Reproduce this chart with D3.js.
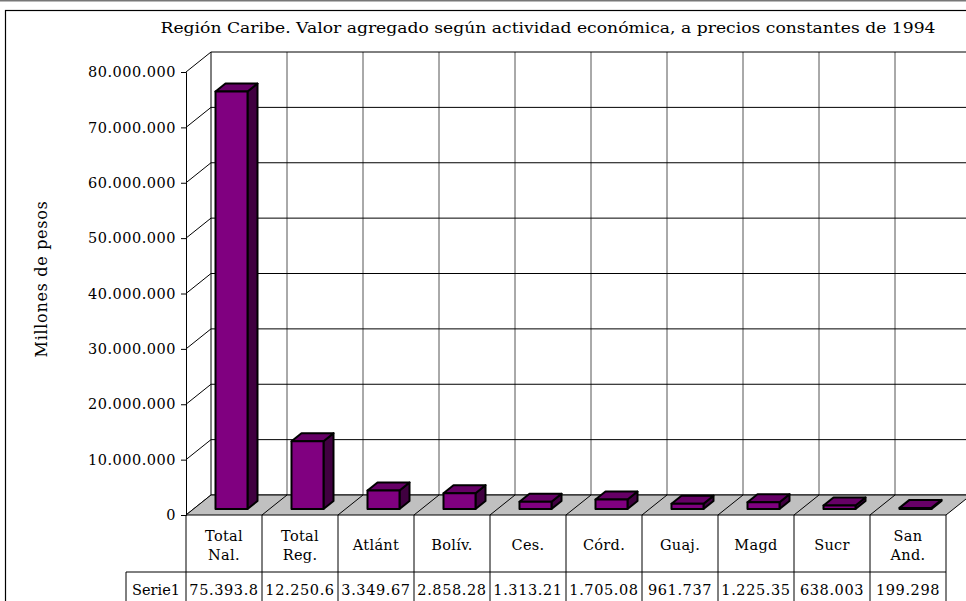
<!DOCTYPE html>
<html>
<head>
<meta charset="utf-8">
<script src="https://cdn.jsdelivr.net/npm/d3@7"></script>
<style>
  body { margin: 0; background: #fff; }
  text { font-family: "DejaVu Serif", serif; fill: #000; }
</style>
</head>
<body>
<div id="chart"></div>
<script>
const categories = ["Total Nal.", "Total Reg.", "Atlánt", "Bolív.", "Ces.", "Córd.", "Guaj.", "Magd", "Sucr", "San And."];
const values = [75393800, 12250600, 3349670, 2858280, 1313210, 1705080, 961737, 1225350, 638003, 199298];
const tableLabels = ["75.393.8", "12.250.6", "3.349.67", "2.858.28", "1.313.21", "1.705.08", "961.737", "1.225.35", "638.003", "199.298"];
const seriesName = "Serie1";
const yTicks = [0, 10000000, 20000000, 30000000, 40000000, 50000000, 60000000, 70000000, 80000000];
const title = "Región Caribe. Valor agregado según actividad económica, a precios  constantes de 1994";
const yTitle = "Millones de pesos";

const width = 966, height = 601;
const dx = 25, dy = -20; // depth of the 3d box

const svg = d3.select('#chart').append('svg')
    .attr('width', width)
    .attr('height', height);

const es = d3.formatLocale({ decimal: ",", thousands: ".", grouping: [3] });
const fmt = es.format(",d");

const x = d3.scaleBand()
    .domain(categories)
    .range([186, 946]);
const y = d3.scaleLinear()
    .domain([0, 80000000])
    .range([515, 72]);

// window line + frame
svg.append('line').attr('x1', 0).attr('x2', width).attr('y1', 0.5).attr('y2', 0.5)
    .attr('stroke', '#777').attr('stroke-width', 2);
svg.append('rect')
    .attr('x', 5.5).attr('y', 10.5).attr('width', 980).attr('height', 620)
    .attr('fill', 'none').attr('stroke', '#000').attr('stroke-width', 1.2);

svg.append('text')
    .attr('x', 548).attr('y', 33)
    .attr('text-anchor', 'middle')
    .attr('font-size', 15.5)
    .attr('textLength', 775)
    .attr('lengthAdjust', 'spacingAndGlyphs')
    .text(title);

svg.append('text')
    .attr('transform', 'translate(47,' + 279 + ') rotate(-90)')
    .attr('text-anchor', 'middle')
    .attr('font-size', 16)
    .attr('letter-spacing', 0.7)
    .text(yTitle);

const x0 = x.range()[0], x1 = x.range()[1];
const y0 = y(0), yTop = y(80000000);

// back wall
svg.append('rect')
    .attr('x', x0 + dx).attr('y', yTop + dy)
    .attr('width', x1 - x0).attr('height', y0 - yTop)
    .attr('fill', '#fff');

// left wall
svg.append('path')
    .attr('d', `M${x0},${y0}L${x0},${yTop}L${x0 + dx},${yTop + dy}L${x0 + dx},${y0 + dy}Z`)
    .attr('fill', '#fff');

// vertical grid on back wall
svg.append('g').selectAll('line')
    .data(categories.slice(1))
    .enter().append('line')
    .attr('x1', d => x(d) + dx).attr('x2', d => x(d) + dx)
    .attr('y1', yTop + dy).attr('y2', y0 + dy)
    .attr('stroke', '#555').attr('stroke-width', 1);

// horizontal grid
const grid = svg.append('g');
grid.selectAll('.hg')
    .data(yTicks)
    .enter().append('line')
    .attr('class', 'hg')
    .attr('x1', x0 + dx).attr('x2', x1 + dx)
    .attr('y1', d => y(d) + dy).attr('y2', d => y(d) + dy)
    .attr('stroke', '#000').attr('stroke-width', 1);
grid.selectAll('.dg')
    .data(yTicks)
    .enter().append('line')
    .attr('class', 'dg')
    .attr('x1', x0).attr('x2', x0 + dx)
    .attr('y1', d => y(d)).attr('y2', d => y(d) + dy)
    .attr('stroke', '#000').attr('stroke-width', 1);
svg.append('line')
    .attr('x1', x0 + dx).attr('x2', x0 + dx)
    .attr('y1', yTop + dy).attr('y2', y0 + dy)
    .attr('stroke', '#000');

// floor
svg.append('path')
    .attr('d', `M${x0},${y0}L${x1},${y0}L${x1 + dx},${y0 + dy}L${x0 + dx},${y0 + dy}Z`)
    .attr('fill', '#c0c0c0').attr('stroke', '#000').attr('stroke-width', 1);
svg.append('g').selectAll('line')
    .data(categories.slice(1))
    .enter().append('line')
    .attr('x1', d => x(d)).attr('x2', d => x(d) + dx)
    .attr('y1', y0).attr('y2', y0 + dy)
    .attr('stroke', '#000').attr('stroke-width', 1);

// y axis
const yAxis = svg.append('g')
    .attr('transform', `translate(${x0},0)`)
    .call(d3.axisLeft(y).tickValues(yTicks).tickFormat(fmt).tickSize(5).tickPadding(5));
yAxis.select('.domain').attr('stroke', '#000');
yAxis.selectAll('text')
    .attr('font-family', '"DejaVu Serif", serif')
    .attr('font-size', 14.5)
    .attr('letter-spacing', 0.5)
    .attr('fill', '#000');

// bars
const bw = x.bandwidth();
const barW = 32;
const f0 = 0.3, fd = 0.4;
const bars = svg.append('g').selectAll('g')
    .data(categories.map((c, i) => ({ c, v: values[i] })))
    .enter().append('g')
    .attr('stroke', '#000')
    .attr('stroke-width', 2)
    .attr('stroke-linejoin', 'round');

bars.each(function (d) {
    const g = d3.select(this);
    const bx0 = x(d.c) + (bw - barW) / 2 + f0 * dx;
    const bx1 = bx0 + barW;
    const yb = y(0) + f0 * dy;
    const yt = y(d.v) + f0 * dy;
    const ox = fd * dx, oy = fd * dy;
    g.append('path')
        .attr('d', `M${bx1},${yb}L${bx1},${yt}L${bx1 + ox},${yt + oy}L${bx1 + ox},${yb + oy}Z`)
        .attr('fill', '#400040');
    g.append('path')
        .attr('d', `M${bx0},${yt}L${bx1},${yt}L${bx1 + ox},${yt + oy}L${bx0 + ox},${yt + oy}Z`)
        .attr('fill', '#660066');
    g.append('rect')
        .attr('x', bx0).attr('y', yt)
        .attr('width', barW).attr('height', yb - yt)
        .attr('fill', '#800080');
});

// data table
const rowTop = y0, rowMid = 572, rowBot = 640;
const table = svg.append('g').attr('stroke', '#000').attr('stroke-width', 1);
table.selectAll('.vl')
    .data(categories.map(c => x(c)).concat([x1]))
    .enter().append('line')
    .attr('class', 'vl')
    .attr('x1', d => d).attr('x2', d => d)
    .attr('y1', rowTop).attr('y2', rowBot);
table.append('line')
    .attr('x1', 126).attr('x2', x1)
    .attr('y1', rowMid).attr('y2', rowMid);
table.append('line')
    .attr('x1', 126).attr('x2', 126)
    .attr('y1', rowMid).attr('y2', rowBot);

const catLabels = svg.append('g').selectAll('text')
    .data(categories)
    .enter().append('text')
    .attr('text-anchor', 'middle')
    .attr('font-size', 14.5)
    .attr('letter-spacing', 0.3)
    .attr('x', d => x(d) + bw / 2)
    .attr('y', d => d.split(' ').length > 1 ? 541 : 550);
catLabels.selectAll('tspan')
    .data(d => d.split(' '))
    .enter().append('tspan')
    .attr('x', function () { return d3.select(this.parentNode).attr('x'); })
    .attr('dy', (d, i) => i ? 19 : 0)
    .text(d => d);

svg.append('text')
    .attr('x', 156).attr('y', 595)
    .attr('text-anchor', 'middle')
    .attr('font-size', 14.5)
    .text(seriesName);
svg.append('g').selectAll('text')
    .data(tableLabels)
    .enter().append('text')
    .attr('x', (d, i) => x(categories[i]) + bw / 2)
    .attr('y', 595)
    .attr('text-anchor', 'middle')
    .attr('font-size', 14.5)
    .attr('letter-spacing', 0.6)
    .text(d => d);
</script>
</body>
</html>
